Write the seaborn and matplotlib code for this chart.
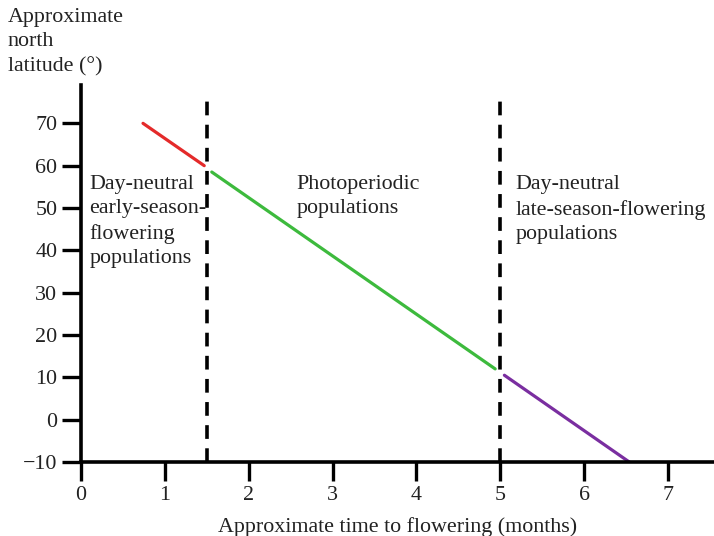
import pandas as pd
import seaborn as sns
import matplotlib.pyplot as plt

# segment end points (months, latitude)
early_x = [0.74, 1.47]
early_y = [70, 60]
photo_x = [1.56, 4.94]
photo_y = [58.5, 12]
late_x = [5.05, 6.54]
late_y = [10.5, -10]
boundaries = [1.5, 5]
x_ticks = [0, 1, 2, 3, 4, 5, 6, 7]
y_ticks = [-10, 0, 10, 20, 30, 40, 50, 60, 70]

df = pd.DataFrame({
    'months': early_x + photo_x + late_x,
    'lat': early_y + photo_y + late_y,
    'group': ['early'] * 2 + ['photo'] * 2 + ['late'] * 2,
})
colors = {'early': '#e42a2a', 'photo': '#3dba3d', 'late': '#7a2ea0'}

sns.set_style('ticks')
plt.rcParams['font.family'] = ['Liberation Serif', 'DejaVu Serif']
plt.rcParams['axes.unicode_minus'] = True

fs = 15.8
fig = plt.figure(figsize=(7.14, 5.36), dpi=100)
ax = fig.add_axes([0.1134, 0.138, 0.8866, 0.703])

sns.lineplot(data=df, x='months', y='lat', hue='group', palette=colors,
             linewidth=2.3, legend=False, ax=ax)

for b in boundaries:
    ax.plot([b, b], [-10, 77], color='black', linewidth=2.6,
            dashes=(3.8, 2.6), zorder=1)

ax.set_xlim(0, 7.55)
ax.set_ylim(-10, 79)
ax.set_xticks(x_ticks)
ax.set_yticks(y_ticks)
ax.tick_params(axis='both', length=14, width=2.4, labelsize=fs, pad=3,
               color='black', labelcolor='#222222')
for side in ['top', 'right']:
    ax.spines[side].set_visible(False)
for side in ['left', 'bottom']:
    ax.spines[side].set_linewidth(2.6)
    ax.spines[side].set_color('black')
ax.set_xlabel('Approximate time to flowering (months)', fontsize=fs,
              color='#222222', labelpad=9)
ax.set_ylabel('')

fig.text(0.011, 0.985, 'Approximate\nnorth\nlatitude (°)', ha='left', va='top',
         fontsize=fs, color='#222222', linespacing=1.38)

txt = dict(fontsize=fs, color='#222222', va='top', ha='left', linespacing=1.38)
ax.text(0.1, 57.8, 'Day-neutral\nearly-season-\nflowering\npopulations', **txt)
ax.text(2.57, 57.8, 'Photoperiodic\npopulations', **txt)
ax.text(5.18, 57.8, 'Day-neutral\nlate-season-flowering\npopulations', **txt)

fig.savefig('out.png', dpi=100)
